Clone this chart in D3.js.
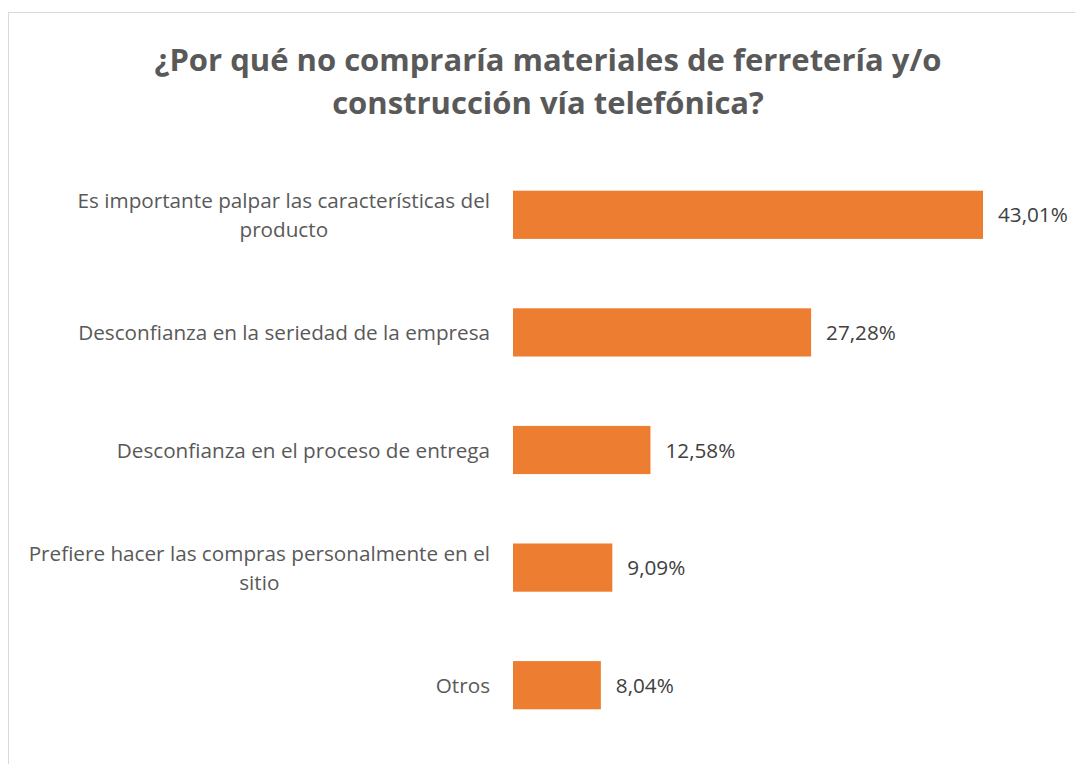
<!DOCTYPE html>
<html><head><meta charset="utf-8">
<script src="https://cdnjs.cloudflare.com/ajax/libs/d3/7.8.5/d3.min.js"></script>
<style>body{margin:0;background:#fff}svg{display:block}</style>
</head><body><svg id="c" width="1075" height="764"></svg>
<script>
const titleLines = ["¿Por qué no compraría materiales de ferretería y/o", "construcción vía telefónica?"];
const categories = [
  ["Es importante palpar las características del", "producto"],
  ["Desconfianza en la seriedad de la empresa"],
  ["Desconfianza en el proceso de entrega"],
  ["Prefiere hacer las compras personalmente en el", "sitio"],
  ["Otros"]
];
const values = [43.01, 27.28, 12.58, 9.09, 8.04];
const valueLabels = ["43,01%", "27,28%", "12,58%", "9,09%", "8,04%"];

const svg = d3.select("#c");
const font = "'Open Sans', sans-serif";
svg.append("rect").attr("x", 8.5).attr("y", 12.5).attr("width", 1100).attr("height", 800)
  .attr("fill", "#fff").attr("stroke", "#d9d9d9").attr("stroke-width", 1);

svg.append("g").selectAll("text").data(titleLines).join("text")
  .attr("x", 548).attr("y", (d, i) => 71 + i * 43)
  .attr("text-anchor", "middle").attr("font-family", font).attr("font-weight", "bold")
  .attr("font-size", 31).attr("fill", "#595959").text(d => d);

const x = d3.scaleLinear().domain([0, 43.01]).range([513, 983]);
const y = d3.scaleBand().domain(d3.range(values.length)).range([156, 744]).paddingInner(0.59).paddingOuter(0.295);

svg.append("g").selectAll("rect").data(values).join("rect")
  .attr("x", x(0)).attr("y", (d, i) => y(i)).attr("width", d => x(d) - x(0)).attr("height", y.bandwidth())
  .attr("fill", "#ED7D31");

svg.append("g").selectAll("text").data(valueLabels).join("text")
  .attr("x", (d, i) => x(values[i]) + 15).attr("y", (d, i) => y(i) + y.bandwidth() / 2 + 7.5)
  .attr("font-family", font).attr("font-size", 20.7).attr("fill", "#404040").text(d => d);

const labG = svg.append("g");
categories.forEach((lines, i) => {
  const cy = y(i) + y.bandwidth() / 2;
  const n = lines.length;
  const t = labG.append("text").attr("font-family", font).attr("font-size", 20.7).attr("fill", "#595959");
  const first = t.append("tspan").attr("text-anchor", "end").attr("x", 490)
    .attr("y", cy + 7.5 - (n - 1) / 2 * 29).text(lines[0]);
  const w = first.node().getComputedTextLength();
  for (let j = 1; j < n; j++) {
    t.append("tspan").attr("text-anchor", "middle").attr("x", 490 - w / 2)
      .attr("y", cy + 7.5 + (j - (n - 1) / 2) * 29).text(lines[j]);
  }
});
</script></body></html>
